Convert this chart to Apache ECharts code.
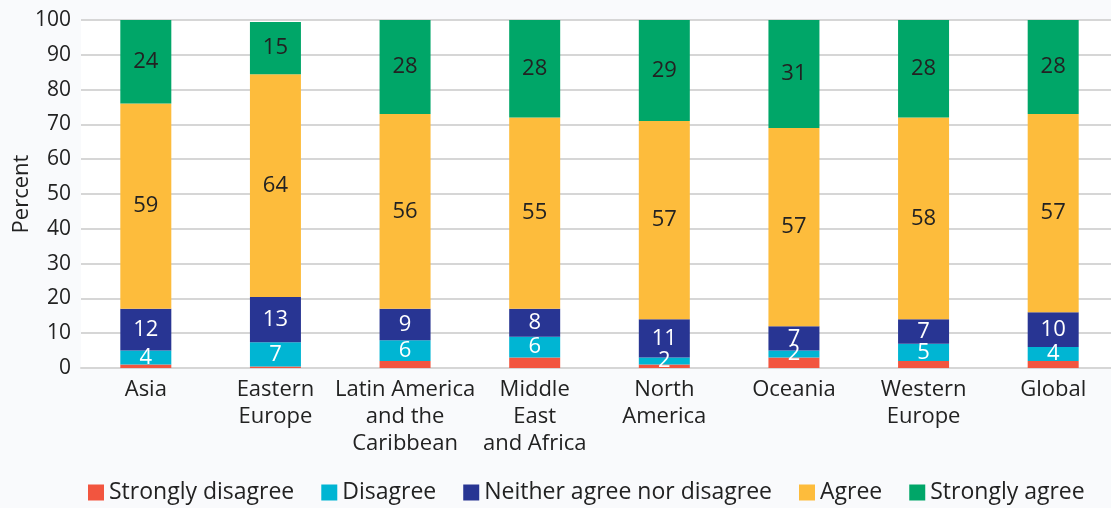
<!DOCTYPE html>
<html>
<head>
<meta charset="utf-8">
<script src="https://cdn.jsdelivr.net/npm/echarts@6/dist/echarts.min.js"></script>
<style>
  html, body { margin: 0; padding: 0; background: #f9fafc; }
  #chart { width: 1111px; height: 508px; }
</style>
</head>
<body>
<div id="chart"></div>
<script>
// Regions and their response shares (percent)
const categories = ['Asia', 'Eastern\nEurope', 'Latin America\nand the\nCaribbean', 'Middle\nEast\nand Africa', 'North\nAmerica', 'Oceania', 'Western\nEurope', 'Global'];
const stronglyDisagree = [1, 0.4, 2, 3, 1, 3, 2, 2];
const disagree         = [4, 7, 6, 6, 2, 2, 5, 4];
const neither          = [12, 13, 9, 8, 11, 7, 7, 10];
const agree            = [59, 64, 56, 55, 57, 57, 58, 57];
const stronglyAgree    = [24, 15, 28, 28, 29, 31, 28, 28];
const yTicks = [0, 10, 20, 30, 40, 50, 60, 70, 80, 90, 100];

const FONT = '"Open Sans", Lato, sans-serif';
const TEXT = '#222';

function stackSeries(name, data, color, labelColor, showLabel) {
  return {
    name: name,
    type: 'bar',
    stack: 'total',
    barWidth: 51,
    data: data,
    itemStyle: { color: color },
    label: {
      show: showLabel,
      position: 'inside',
      color: labelColor,
      fontFamily: FONT,
      fontSize: 22,
      formatter: p => (p.value > 0 ? p.value : '')
    },
    emphasis: { disabled: true }
  };
}

const chart = echarts.init(document.getElementById('chart'), null, { renderer: 'canvas' });
chart.setOption({
  animation: false,
  backgroundColor: '#f9fafc',
  textStyle: { fontFamily: FONT },
  grid: {
    left: 81, width: 1037, top: 20, height: 348,
    outerBoundsMode: 'none',
    show: true, backgroundColor: '#ffffff', borderWidth: 0
  },
  legend: {
    left: 83, top: 476,
    itemWidth: 16, itemHeight: 16, itemGap: 27,
    icon: 'rect',
    textStyle: { fontFamily: FONT, fontSize: 23, color: TEXT },
    data: ['Strongly disagree', 'Disagree', 'Neither agree nor disagree', 'Agree', 'Strongly agree']
  },
  xAxis: {
    type: 'category',
    data: categories,
    axisLine: { show: true, lineStyle: { color: '#d6d6d6', width: 2 } },
    axisTick: { show: false },
    axisLabel: {
      interval: 0, margin: 8, color: TEXT,
      fontFamily: FONT, fontSize: 22, lineHeight: 27
    }
  },
  yAxis: {
    type: 'value',
    min: yTicks[0], max: yTicks[yTicks.length - 1], interval: 10,
    name: 'Percent',
    nameLocation: 'middle',
    nameGap: 48,
    nameMoveOverlap: false,
    nameTextStyle: { fontFamily: FONT, fontSize: 22, color: TEXT },
    axisLabel: { color: TEXT, fontFamily: FONT, fontSize: 21, margin: 10 },
    splitLine: { lineStyle: { color: '#d6d6d6', width: 2 } },
    axisLine: { show: false },
    axisTick: { show: false }
  },
  series: [
    stackSeries('Strongly disagree', stronglyDisagree, '#f2553f', '#fff', false),
    stackSeries('Disagree', disagree, '#00b5d3', '#fff', true),
    stackSeries('Neither agree nor disagree', neither, '#283593', '#fff', true),
    stackSeries('Agree', agree, '#fdbc3c', TEXT, true),
    stackSeries('Strongly agree', stronglyAgree, '#00a668', TEXT, true)
  ]
});
</script>
</body>
</html>
